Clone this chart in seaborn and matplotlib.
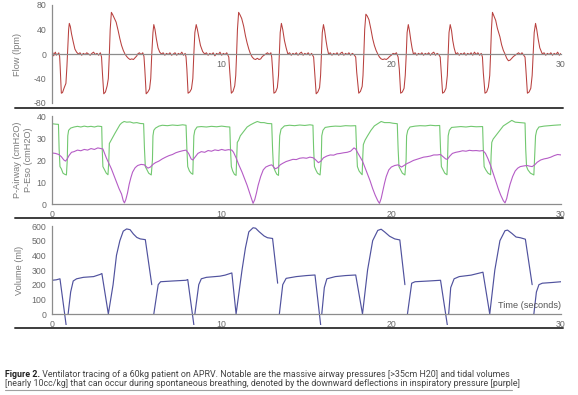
import numpy as np
import pandas as pd
import matplotlib
matplotlib.use("Agg")
import matplotlib.pyplot as plt
import seaborn as sns
from matplotlib.lines import Line2D

sns.set_theme(style="white")
plt.rcParams["font.family"] = ["Liberation Sans", "DejaVu Sans"]

# ---------------- data ----------------
flow_t = [0, 0.05, 0.1, 0.15, 0.2, 0.25, 0.3, 0.35, 0.4, 0.45,
          0.48, 0.55, 0.62, 0.72, 0.82, 0.88, 0.93, 0.98, 1.02, 1.08, 1.15, 1.25, 1.35, 1.45, 1.55,
          1.65, 1.75, 1.85, 1.95, 2.05, 2.15, 2.25, 2.35, 2.45, 2.55, 2.65, 2.75, 2.85, 2.92,
          2.97, 3.05, 3.15, 3.25, 3.32, 3.38, 3.43, 3.5, 3.58, 3.68, 3.78, 3.9, 4.0, 4.1, 4.2, 4.3,
          4.4, 4.5, 4.6, 4.7, 4.8, 4.9, 5.0, 5.05,
          5.15, 5.25, 5.35, 5.42,
          5.47, 5.55, 5.65, 5.75, 5.82, 5.88, 5.95, 6.0, 6.07, 6.15, 6.25, 6.35, 6.45,
          6.55, 6.65, 6.75, 6.85, 6.95, 7.05, 7.15, 7.25, 7.35, 7.45, 7.55, 7.65, 7.75, 7.85, 7.9,
          7.95, 8.02, 8.12, 8.22, 8.3, 8.36, 8.42, 8.5, 8.57, 8.65, 8.75, 8.88, 9.0,
          9.1, 9.2, 9.3, 9.4, 9.5, 9.6, 9.7, 9.8, 9.9, 10.0, 10.1, 10.2, 10.3, 10.42,
          10.48, 10.57, 10.67, 10.77, 10.83, 10.88, 10.93, 11.0, 11.08, 11.18, 11.3, 11.4, 11.5,
          11.6, 11.7, 11.8, 11.9, 12.0, 12.1, 12.2, 12.3, 12.4, 12.5, 12.6,
          12.7, 12.8, 12.9, 12.95,
          13.0, 13.08, 13.18, 13.28, 13.35, 13.4, 13.45, 13.52, 13.6, 13.7, 13.8, 13.9,
          14.0, 14.1, 14.2, 14.3, 14.4, 14.5, 14.6, 14.7, 14.8, 14.9, 15.0, 15.1, 15.2, 15.3, 15.42,
          15.47, 15.57, 15.67, 15.77, 15.83, 15.88, 15.93, 16.0, 16.07, 16.15, 16.22, 16.3,
          16.4, 16.5, 16.6, 16.7, 16.8, 16.9, 17.0, 17.1, 17.2, 17.3, 17.4, 17.5, 17.6, 17.7, 17.8, 17.9,
          17.96, 18.08, 18.18, 18.28, 18.33, 18.38, 18.43, 18.5, 18.58, 18.68, 18.8, 18.9, 19.0,
          19.1, 19.2, 19.3, 19.4, 19.5, 19.6, 19.7, 19.8, 19.9, 20.0, 20.1, 20.2,
          20.3, 20.4,
          20.47, 20.55, 20.65, 20.75, 20.82, 20.88, 20.93, 21.0, 21.07, 21.15, 21.22, 21.3,
          21.4, 21.5, 21.6, 21.7, 21.8, 21.9, 22.0, 22.1, 22.2, 22.3, 22.4, 22.5, 22.6, 22.7, 22.8, 22.88,
          22.93, 23.02, 23.12, 23.22, 23.3, 23.35, 23.4, 23.47, 23.55, 23.62, 23.7, 23.8,
          23.9, 24.0, 24.1, 24.2, 24.3, 24.4, 24.5, 24.6, 24.7, 24.8, 24.9, 25.0, 25.1, 25.2, 25.3, 25.37,
          25.42, 25.52, 25.62, 25.72, 25.8, 25.85, 25.9, 25.96, 26.05, 26.15, 26.25, 26.4, 26.5,
          26.6, 26.7, 26.8, 26.9, 27.0, 27.1, 27.2, 27.3, 27.4,
          27.5, 27.6, 27.7, 27.8, 27.88,
          27.93, 28.02, 28.12, 28.22, 28.3, 28.36, 28.42, 28.5, 28.57, 28.65, 28.75, 28.9,
          29.0, 29.1, 29.2, 29.3, 29.4, 29.5, 29.6, 29.7, 29.8, 29.9, 30.0]
flow_v = [0, 2, -3, 1, 3, -2, 0, -1, 2, -4,
          -20, -64, -63, -55, -48, -20, 10, 40, 50, 45, 33, 20, 8, 3, 0,
          2, -2, 1, -1, 2, 0, -2, 1, 3, -1, 1, -2, 2, -5,
          -30, -65, -62, -52, -40, 0, 40, 68, 64, 58, 52, 38, 25, 14, 6, 0,
          -4, -7, -9, -8, -9, -6, -3, 0,
          2, -1, 2, -4,
          -25, -65, -62, -57, -40, 0, 35, 48, 40, 25, 10, 3, 0,
          2, -2, 1, -1, 2, -2, 0, 2, -2, 1, -1, 3, -2, 1, -5,
          -25, -64, -62, -57, -40, 0, 35, 48, 40, 28, 14, 4, 0,
          2, -2, 1, -1, 2, -3, 1, -1, 3, -2, 1, -1, 2, -5,
          -30, -64, -61, -52, -35, 0, 40, 68, 64, 58, 45, 30, 18,
          8, 0, -5, -8, -9, -7, -9, -8, -4, -2, 0,
          2, -1, 2, -5,
          -25, -64, -62, -55, -35, 0, 35, 50, 40, 22, 10, 0,
          2, -2, 1, -1, 2, -2, 1, 3, -2, 1, -1, 2, -2, 1, -5,
          -25, -65, -62, -55, -35, 0, 35, 48, 38, 22, 10, 0,
          2, -2, 1, -1, 2, -2, 1, 3, -2, 1, -1, 2, -2, 1, -1, -5,
          -30, -64, -61, -53, -35, 0, 40, 65, 62, 56, 40, 25, 14,
          6, 0, -5, -8, -9, -8, -9, -7, -4, -2, 1, 0,
          2, -5,
          -25, -64, -62, -56, -35, 0, 35, 48, 38, 22, 10, 0,
          2, -2, 1, -1, 2, -2, 1, -1, 2, -2, 1, 3, -2, 1, -1, -5,
          -25, -64, -62, -56, -35, 0, 35, 48, 38, 22, 10, 0,
          2, -2, 1, -1, 2, -2, 1, -1, 2, -2, 3, -1, 2, -2, 1, -5,
          -30, -64, -62, -54, -35, 0, 40, 68, 62, 55, 42, 28, 15,
          6, 0, -7, -11, -10, -7, -4, -2, 0,
          2, -1, 2, -2, -5,
          -25, -64, -62, -56, -35, 0, 35, 50, 40, 25, 10, 0,
          2, -2, 1, -1, 2, -2, 1, -1, 3, -2, 1]

paw_t = [0, 0.2, 0.38, 0.42, 0.47, 0.55, 0.65, 0.75, 0.85, 0.9, 0.93, 0.98, 1.1, 1.3, 1.5, 1.7, 1.9,
         2.1, 2.3, 2.5, 2.7, 2.93,
         2.96, 3.0, 3.1, 3.2, 3.3, 3.35, 3.38, 3.45, 3.55, 3.7, 3.85, 4.0, 4.1, 4.25, 4.4, 4.6, 4.8,
         5.0, 5.2, 5.4,
         5.45, 5.5, 5.6, 5.7, 5.85, 5.92, 5.95, 6.0, 6.1, 6.3, 6.5, 6.8, 7.1, 7.4, 7.7, 7.9,
         7.95, 8.0, 8.1, 8.2, 8.3, 8.33, 8.36, 8.42, 8.55, 8.8, 9.1, 9.4, 9.7, 10.0, 10.3, 10.48,
         10.52, 10.57, 10.65, 10.75, 10.85, 10.88, 10.92, 11.0, 11.1, 11.3, 11.5, 11.7, 11.9, 12.1,
         12.3, 12.5, 12.7, 12.95,
         13.0, 13.05, 13.15, 13.25, 13.35, 13.38, 13.42, 13.5, 13.7, 14.0, 14.3, 14.6, 14.9, 15.2,
         15.38,
         15.42, 15.47, 15.55, 15.65, 15.8, 15.87, 15.9, 15.97, 16.1, 16.4, 16.7, 17.0, 17.3, 17.6,
         17.9,
         17.95, 18.0, 18.1, 18.2, 18.28, 18.32, 18.35, 18.45, 18.6, 18.8, 19.0, 19.2, 19.4, 19.6,
         19.9, 20.1, 20.35,
         20.4, 20.45, 20.55, 20.65, 20.8, 20.87, 20.9, 20.97, 21.1, 21.4, 21.7, 22.0, 22.3, 22.6,
         22.85,
         22.9, 22.95, 23.05, 23.15, 23.28, 23.32, 23.35, 23.42, 23.55, 23.8, 24.1, 24.4, 24.7, 25.0,
         25.38,
         25.42, 25.47, 25.57, 25.7, 25.85, 25.88, 25.92, 26.0, 26.2, 26.4, 26.6, 26.8, 27.0, 27.1,
         27.3, 27.6, 27.88,
         27.92, 27.97, 28.05, 28.2, 28.4, 28.45, 28.5, 28.57, 28.7, 29.0, 29.3, 29.6, 30.0]
paw_v = [36.5, 36.3, 36.2, 25, 17, 16, 14, 13.5, 13.2, 20, 31, 33.5, 34.5, 35, 35.3, 35, 35.4,
         35.1, 35.3, 35, 35.4, 35.2,
         25, 17, 15.5, 14, 13.3, 20, 27.5, 28.5, 30, 32, 34, 36, 36.8, 37.5, 37.2, 37.3, 36.8,
         37, 36.6, 36.5,
         25, 17, 15.5, 14, 13.2, 20, 31, 33.5, 34.5, 35.4, 35.8, 35.6, 35.9, 35.7, 36, 35.8,
         25, 17, 15, 14, 13.5, 22, 31, 33.5, 35, 35.2, 35, 35.3, 35.1, 35.4, 35.1, 35,
         25, 17, 15, 13.5, 13, 20, 28, 29, 31, 33, 35, 36, 36.8, 37.5,
         37, 37, 36.6, 36.5,
         25, 17, 15, 13.5, 13, 22, 31, 34, 35.5, 35.8, 35.6, 35.9, 35.7, 36,
         35.8,
         25, 17, 15.5, 14, 13.2, 20, 31, 33.5, 34.8, 35.2, 35.4, 35.3, 35.6, 35.5,
         35.6,
         25, 17, 15, 14, 13.3, 22, 27, 29, 31, 33.5, 35.5, 36.5, 37.5, 37,
         37, 36.7, 36.5,
         25, 17, 15.5, 14, 13.2, 20, 31, 33.5, 35, 35.4, 35.6, 35.5, 35.8, 35.6,
         35.7,
         25, 17, 15.5, 14, 13.3, 22, 31, 33.5, 34.8, 35, 35.2, 35, 35.3, 35.1,
         35.2,
         25, 17, 15.5, 14, 13.3, 22, 28, 29.5, 31.5, 33.5, 35.5, 36.5, 37.5, 38,
         37.2, 37, 36.8,
         25, 17, 15.5, 14, 13.2, 22, 31, 33.5, 35, 35.4, 35.6, 35.8, 36]

peso_t = [0, 0.2, 0.4, 0.55, 0.7, 0.8, 0.9, 1.0, 1.15, 1.3, 1.5, 1.7, 1.9, 2.1, 2.3, 2.5, 2.7, 2.9,
          3.0, 3.1, 3.2, 3.35, 3.5, 3.65, 3.8, 3.95, 4.1, 4.2, 4.27, 4.35, 4.45, 4.55, 4.65, 4.75,
          4.9, 5.05, 5.25, 5.45, 5.55, 5.65, 5.8, 5.95, 6.1, 6.3, 6.5, 6.7, 6.9, 7.1, 7.3, 7.5, 7.7,
          7.9, 8.05, 8.2, 8.3, 8.45, 8.6, 8.8, 9.0, 9.2, 9.4, 9.6, 9.8, 10.0, 10.2, 10.4, 10.6, 10.7,
          10.85, 11.0, 11.2, 11.35, 11.5, 11.65, 11.78, 11.85, 11.95, 12.05, 12.15, 12.3, 12.45,
          12.6, 12.8, 12.95, 13.05, 13.15, 13.3, 13.45, 13.6, 13.8, 14.0, 14.2, 14.4, 14.6, 14.8,
          15.0, 15.2, 15.4, 15.55, 15.7, 15.85, 16.0, 16.2, 16.4, 16.6, 16.8, 17.0, 17.2, 17.4, 17.6,
          17.8, 17.9, 18.0, 18.15, 18.3, 18.45, 18.6, 18.75, 18.9, 19.05, 19.2, 19.3, 19.4, 19.5,
          19.6, 19.7, 19.85, 20.0, 20.2, 20.4, 20.5, 20.6, 20.75, 20.9, 21.1, 21.3, 21.5, 21.7, 21.9,
          22.1, 22.3, 22.5, 22.7, 22.9, 23.05, 23.2, 23.3, 23.45, 23.6, 23.8, 24.0, 24.2, 24.4, 24.6,
          24.8, 25.0, 25.2, 25.4, 25.55, 25.7, 25.85, 26.0, 26.15, 26.3, 26.45, 26.6, 26.7, 26.8,
          26.9, 27.0, 27.15, 27.3, 27.45, 27.6, 27.8, 28.0, 28.15, 28.3, 28.45, 28.6, 28.8, 29.0,
          29.2, 29.4, 29.6, 29.8, 30.0]
peso_v = [23.2, 23, 22.5, 21.5, 20, 19.5, 20.5, 22, 23.5, 23.8, 24.5, 24.2, 24.8, 24.5, 25.2, 24.8,
          25.5, 25.2,
          25, 23, 21, 18.5, 16, 13, 10, 7, 4.5, 1.5, 0.5, 2, 5, 9, 12, 14.5,
          16.5, 17.5, 18, 17.8, 17, 16.3, 16.8, 18, 18.8, 19.5, 20.5, 21.3, 22, 22.5, 23.3, 23.8, 24.2,
          24.5, 23, 20.5, 20, 21.5, 23, 23.8, 23.5, 24.3, 24, 24.6, 24.3, 24.8, 24.4, 24.7, 24.5, 23.5,
          21, 18, 14.5, 11.5, 8.5, 5, 2, 0.3, 2, 5, 8.5, 12.5, 15.5,
          16.8, 17.5, 17.8, 17, 16, 16.5, 17.8, 18.5, 19.3, 19.8, 20.3, 20.2, 20.8, 21,
          20.8, 21.3, 21, 20, 18.8, 19.5, 21, 21.8, 22.3, 22.2, 22.8, 23, 23.3, 23.5, 24,
          25.5, 25, 23.5, 21.5, 19.5, 16.5, 13.5, 10.5, 7, 4, 1.5, 0.3, 2.5, 6,
          9.5, 12.5, 15.5, 16.8, 17.5, 17.8, 17.3, 16.8, 17.5, 18.3, 19, 19.8, 20.3, 20.8, 21.3,
          21.5, 21.8, 22.3, 22.3, 22.5, 21.5, 20.5, 20.3, 21.8, 23, 23.5, 23.8, 24.2, 24, 24.4,
          24.2, 24.3, 24.1, 24.3, 23, 20.5, 17.5, 14, 10.5, 7, 4, 1.5, 0.5, 2.5,
          6, 9, 12.5, 15, 16.3, 17, 17.3, 17.5, 17.2, 17, 17.8, 19, 20, 20.5,
          20.8, 21.3, 22, 22.5, 22.3]

vol_t = [0, 0.25, 0.47, 0.85, None,
         0.95, 1.1, 1.25, 1.45, 1.85, 2.45, 2.84, 2.94, 3.32, 3.6, 3.8, 4.0, 4.2, 4.4, 4.6, 4.8,
         5.0, 5.2, 5.5, 5.88, None,
         6.0, 6.26, 6.4, 7.1, 7.9, 8.0, 8.38, None,
         8.42, 8.65, 8.8, 9.1, 9.9, 10.2, 10.6, 10.85, 11.2, 11.4, 11.6, 11.85, 12.0, 12.2, 12.5,
         12.7, 13.0, 13.3, None,
         13.4, 13.6, 13.8, 14.4, 15.0, 15.5, 15.85, None,
         15.9, 16.05, 16.2, 16.7, 17.3, 17.9, 18.3, 18.6, 18.9, 19.2, 19.4, 19.6, 19.9, 20.2,
         20.5, 20.8, None,
         20.95, 21.2, 21.4, 22.2, 22.9, 23.32, None,
         23.38, 23.5, 23.7, 24.0, 24.7, 25.4, 25.8, 26.1, 26.4, 26.7, 26.85, 27.1, 27.35, 27.6,
         27.9, 28.3, None,
         28.4, 28.55, 28.7, 28.9, 29.5, 30.0]
vol_v = [230, 233, 240, -90, None,
         0, 150, 225, 240, 250, 255, 270, 276, 0, 200, 400, 500, 565, 580, 575, 545,
         522, 512, 507, 200, None,
         0, 200, 220, 225, 230, 235, -90, None,
         0, 200, 240, 250, 258, 265, 280, 0, 300, 450, 560, 588, 585, 562, 532,
         520, 515, 210, None,
         0, 200, 243, 255, 262, 266, -90, None,
         0, 180, 240, 255, 262, 266, 0, 300, 500, 570, 578, 560, 530, 512,
         505, 200, None,
         0, 210, 220, 225, 230, -90, None,
         0, 180, 240, 255, 265, 285, 0, 300, 500, 568, 572, 550, 525, 520,
         510, 200, None,
         0, 150, 200, 210, 215, 220]

flow_yticks = [-80, -40, 0, 40, 80]
pres_yticks = [0, 10, 20, 30, 40]
vol_yticks = [0, 100, 200, 300, 400, 500, 600]
x_major = [0, 5, 10, 15, 20, 25, 30]
x_labels_flow = ["", "", "10", "", "20", "", "30"]
x_labels = ["0", "", "10", "", "20", "", "30"]

caption_bold = "Figure 2."
caption_1 = (" Ventilator tracing of a 60kg patient on APRV. Notable are the massive airway "
             "pressures [>35cm H20] and tidal volumes")
caption_2 = ("[nearly 10cc/kg] that can occur during spontaneous breathing, denoted by the "
             "downward deflections in inspiratory pressure [purple]")

# ---------------- frames ----------------
flow_df = pd.DataFrame({"t": flow_t, "v": flow_v})
paw_df = pd.DataFrame({"t": paw_t, "v": paw_v})
peso_df = pd.DataFrame({"t": peso_t, "v": peso_v})
vol_df = pd.DataFrame({"t": np.array(vol_t, dtype=float), "v": np.array(vol_v, dtype=float)})
vol_df["seg"] = vol_df["t"].isna().cumsum()
vol_df = vol_df.dropna()

# ---------------- figure ----------------
W, H = 578, 395
fig = plt.figure(figsize=(W / 100, H / 100), dpi=100)
fig.patch.set_facecolor("white")


def add_axes(left, right, top, bottom):
    return fig.add_axes([left / W, 1 - bottom / H, (right - left) / W, (bottom - top) / H])


ax1 = add_axes(52, 561, 5, 103)
ax2 = add_axes(52, 561, 116, 204)
ax3 = add_axes(52, 561, 226, 325)

RED = "#b8403e"
GREEN = "#72c870"
PURPLE = "#b55cc6"
BLUE = "#50529e"

sns.lineplot(data=flow_df, x="t", y="v", ax=ax1, color=RED, lw=0.75, estimator=None, sort=False)
sns.lineplot(data=paw_df, x="t", y="v", ax=ax2, color=GREEN, lw=0.8, estimator=None, sort=False)
sns.lineplot(data=peso_df, x="t", y="v", ax=ax2, color=PURPLE, lw=0.8, estimator=None, sort=False)
sns.lineplot(data=vol_df, x="t", y="v", units="seg", ax=ax3, color=BLUE, lw=0.85,
             estimator=None, sort=False)

AXC = "#8c8c8c"
TXC = "#6a6a6a"


def style(ax, ylim, yticks, yminor, xlabels, ybounds):
    ax.set_xlim(0, 30)
    ax.set_ylim(*ylim)
    ax.patch.set_alpha(0)
    for s in ["top", "right"]:
        ax.spines[s].set_visible(False)
    ax.spines["bottom"].set_position(("data", 0))
    ax.spines["left"].set_position(("data", 0))
    ax.spines["left"].set_bounds(*ybounds)
    ax.spines["bottom"].set_bounds(0, 30)
    for s in ["left", "bottom"]:
        ax.spines[s].set_color(AXC)
        ax.spines[s].set_linewidth(0.9)
    ax.set_xticks(x_major)
    ax.set_xticklabels(xlabels)
    ax.set_xticks(range(0, 31), minor=True)
    ax.set_yticks(yticks)
    ax.set_yticklabels([str(v) for v in yticks])
    ax.set_yticks(yminor, minor=True)
    ax.tick_params(which="major", direction="inout", length=6, width=0.8, color=AXC,
                   labelsize=6.3, labelcolor=TXC, pad=1)
    ax.tick_params(which="minor", direction="inout", length=3.5, width=0.7, color=AXC)
    ax.set_xlabel("")
    ax.set_ylabel("")


style(ax1, (-80, 80), flow_yticks, [-60, -20, 20, 60], x_labels_flow, (-80, 80))
style(ax2, (0, 40), pres_yticks, list(range(0, 41, 2)), x_labels, (0, 40))
style(ax3, (-75, 600), vol_yticks, [], x_labels, (0, 600))

# separators
for ypx in [108, 218, 328]:
    fig.add_artist(Line2D([15 / W, 563 / W], [1 - ypx / H] * 2, color="#3c3c3c", lw=1.4,
                          transform=fig.transFigure))

# axis titles
fig.text(18 / W, 1 - 55 / H, "Flow (lpm)", rotation=90, ha="center", va="center",
         fontsize=6.6, color="#7a7a7a")
fig.text(23 / W, 1 - 160 / H, "P-Airway (cmH2O)\nP-Eso (cmH2O)", rotation=90, ha="center",
         va="center", fontsize=6.6, color="#7a7a7a", linespacing=1.15)
fig.text(20 / W, 1 - 270 / H, "Volume (ml)", rotation=90, ha="center", va="center",
         fontsize=6.6, color="#7a7a7a")
fig.text(561 / W, 1 - 306 / H, "Time (seconds)", ha="right", va="center", fontsize=6.6,
         color="#555555")

# caption
cap_font = dict(fontsize=6.4, family=["Roboto", "DejaVu Sans"])
t1 = fig.text(5 / W, 1 - 377 / H, caption_bold, fontweight="bold", color="#222222",
              va="baseline", **cap_font)
fig.canvas.draw()
bb = t1.get_window_extent(fig.canvas.get_renderer())
fig.text(bb.x1 / W, 1 - 377 / H, caption_1, color="#444444", va="baseline", **cap_font)
fig.text(5 / W, 1 - 386 / H, caption_2, color="#444444", va="baseline", **cap_font)
fig.add_artist(Line2D([5 / W, 512 / W], [1 - 390 / H] * 2, color="#a0a0a0", lw=0.8,
                      transform=fig.transFigure))

fig.savefig("out.png", dpi=100, facecolor="white")
